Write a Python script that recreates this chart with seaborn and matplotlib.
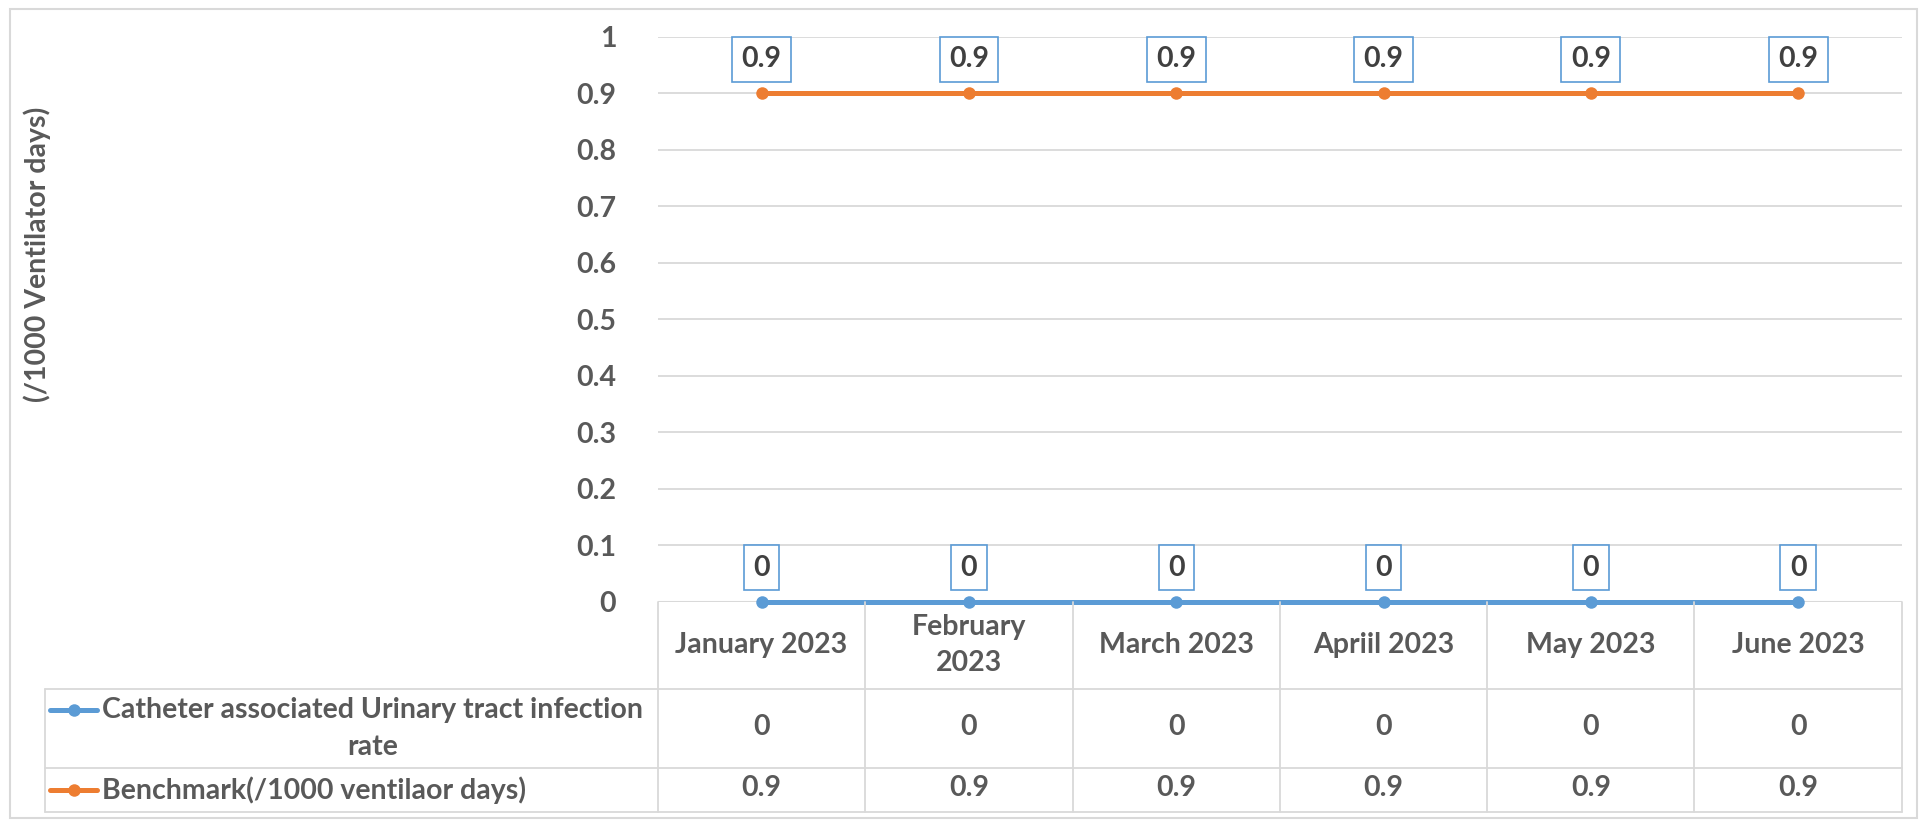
import pandas as pd
import matplotlib.pyplot as plt
import seaborn as sns
from matplotlib.transforms import blended_transform_factory
from matplotlib.patches import Rectangle
from matplotlib.lines import Line2D

months = ["January 2023", "February\n2023", "March 2023", "Apriil 2023", "May 2023", "June 2023"]
series_names = ["Catheter associated Urinary tract infection\nrate", "Benchmark(/1000 ventilaor days)"]
cauti_rate = [0, 0, 0, 0, 0, 0]
benchmark = [0.9, 0.9, 0.9, 0.9, 0.9, 0.9]
y_ticks = [0, 0.1, 0.2, 0.3, 0.4, 0.5, 0.6, 0.7, 0.8, 0.9, 1]
y_label = "(/1000 Ventilator days)"

colors = ["#5B9BD5", "#ED7D31"]
text_col = "#595959"
grid_col = "#D9D9D9"
fs = 20.5

sns.set_theme(style="white")
plt.rcParams["font.family"] = ["Lato", "DejaVu Sans"]
plt.rcParams["font.weight"] = "bold"

df = pd.DataFrame({
    "idx": list(range(len(months))) * 2,
    "value": cauti_rate + benchmark,
    "series": [series_names[0]] * len(months) + [series_names[1]] * len(months),
})

fig = plt.figure(figsize=(19.21, 8.22), dpi=100)
ax = fig.add_axes([0.3425, 0.2682, 0.990 - 0.3425, 0.9552 - 0.2682])

sns.lineplot(data=df, x="idx", y="value", hue="series", palette=colors,
             marker="o", markersize=9, markeredgewidth=0, linewidth=3.6,
             legend=False, ax=ax, clip_on=False, zorder=3)

ax.set_xlim(-0.5, len(months) - 0.5)
ax.set_ylim(0, 1)
ax.set_yticks(y_ticks)
ax.set_yticklabels([f"{t:g}" for t in y_ticks], fontsize=fs, color=text_col, fontweight="bold")
ax.set_xticks([])
ax.set_xlabel("")
ax.set_ylabel("")
ax.tick_params(axis="y", length=0, pad=30)
ax.yaxis.grid(True, color=grid_col, linewidth=1.3)
for s in ax.spines.values():
    s.set_visible(False)
ax.axhline(0, color=grid_col, linewidth=1.5, zorder=2)

# data labels in boxes
for vals in (cauti_rate, benchmark):
    for i, v in enumerate(vals):
        ax.annotate(f"{v:g}", (i, v), xytext=(0, 34), textcoords="offset pixels",
                    ha="center", va="center", fontsize=fs, color="#404040", fontweight="bold",
                    bbox=dict(boxstyle="square,pad=0.33", fc="white", ec="#5B9BD5", lw=1.2),
                    zorder=4, annotation_clip=False)

fig.text(0.0195, 0.691, y_label, rotation=90, ha="center", va="center",
         fontsize=fs, color=text_col, fontweight="bold")

# data table below the axis
tr = blended_transform_factory(ax.transData, fig.transFigure)
y_axis, y_h, y_r1, y_r2 = 0.2682, 0.1624, 0.0657, 0.0122
x_leg = 0.0235
n = len(months)
lc = grid_col
lw = 1.3
for k in range(n + 1):
    fig.add_artist(Line2D([k - 0.5, k - 0.5], [y_axis, y_r2], transform=tr, color=lc, lw=lw))
for yy in (y_h, y_r1, y_r2):
    fig.add_artist(Line2D([x_leg, 0.3425], [yy, yy], transform=fig.transFigure, color=lc, lw=lw))
    fig.add_artist(Line2D([-0.5, n - 0.5], [yy, yy], transform=tr, color=lc, lw=lw))
fig.add_artist(Line2D([x_leg, x_leg], [y_h, y_r2], transform=fig.transFigure, color=lc, lw=lw))

for i, m in enumerate(months):
    fig.text(i, (y_axis + y_h) / 2, m, transform=tr, ha="center", va="center",
             fontsize=fs, color=text_col, fontweight="bold", multialignment="center",
             linespacing=1.5)

row_centers = [(y_h + y_r1) / 2, (y_r1 + y_r2) / 2]
for r, vals in enumerate((cauti_rate, benchmark)):
    yc = row_centers[r]
    for i, v in enumerate(vals):
        fig.text(i, yc + 0.002, f"{v:g}", transform=tr, ha="center", va="center",
                 fontsize=fs, color=text_col, fontweight="bold")
    key_y = yc + (0.0225 if r == 0 else 0)
    fig.add_artist(Line2D([0.026, 0.0505], [key_y, key_y], transform=fig.transFigure,
                          color=colors[r], lw=3.6))
    fig.add_artist(Line2D([0.0383], [key_y], transform=fig.transFigure,
                          color=colors[r], marker="o", markersize=9, markeredgewidth=0))
    fig.text(0.0532, yc, series_names[r], ha="left", va="center", fontsize=fs,
             color=text_col, fontweight="bold", multialignment="center", linespacing=1.5)

fig.add_artist(Rectangle((0.005, 0.005), 0.993, 0.984, transform=fig.transFigure,
                         fill=False, ec=grid_col, lw=1.5))

fig.savefig("out.png", dpi=100)
